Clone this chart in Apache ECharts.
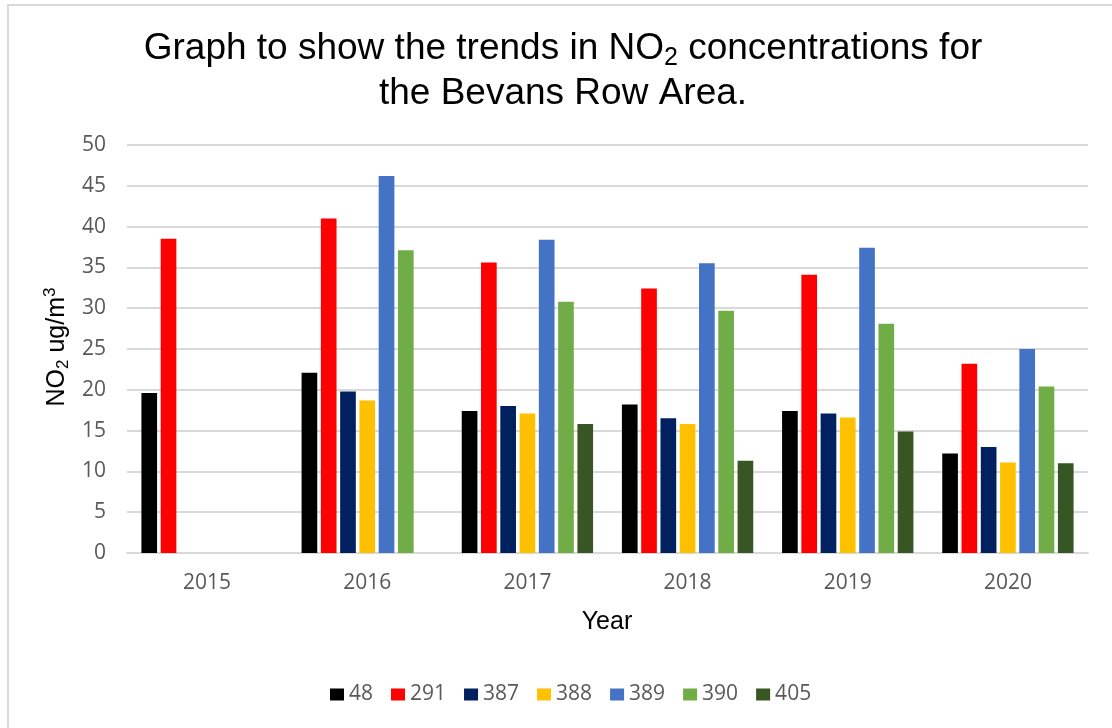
<!DOCTYPE html>
<html>
<head>
<meta charset="utf-8">
<title>NO2 trends - Bevans Row</title>
<script src="https://cdn.jsdelivr.net/npm/echarts@6/dist/echarts.min.js"></script>
<style>
  html, body { margin: 0; padding: 0; background: #fff; }
  #chart { width: 1112px; height: 728px; }
</style>
</head>
<body>
<div id="chart"></div>
<script>
// Years on the x axis
const years = ['2015', '2016', '2017', '2018', '2019', '2020'];

// One array per monitoring site (null = no reading that year)
const site48 = [19.6, 22.1, 17.4, 18.2, 17.4, 12.2];
const site291 = [38.5, 41.0, 35.6, 32.4, 34.1, 23.2];
const site387 = [null, 19.8, 18.0, 16.5, 17.1, 13.0];
const site388 = [null, 18.7, 17.1, 15.8, 16.6, 11.1];
const site389 = [null, 46.2, 38.4, 35.5, 37.4, 25.0];
const site390 = [null, 37.1, 30.8, 29.7, 28.1, 20.4];
const site405 = [null, null, 15.8, 11.3, 14.9, 11.0];

const siteNames = ['48', '291', '387', '388', '389', '390', '405'];
const siteData = [site48, site291, site387, site388, site389, site390, site405];
const siteColors = ['#000000', '#ff0000', '#002060', '#ffc000', '#4472c4', '#70ad47', '#375623'];

const labelFont = '"Open Sans", "Liberation Sans", sans-serif';
const titleFont = '"Liberation Sans", Arial, sans-serif';

const chart = echarts.init(document.getElementById('chart'));

const series = siteNames.map((name, i) => ({
  name: name,
  type: 'bar',
  data: siteData[i],
  itemStyle: { color: siteColors[i] },
  barGap: '23%',
  barCategoryGap: '18%'
}));

const option = {
  backgroundColor: '#ffffff',
  animation: false,
  grid: {
    left: 127,
    right: 24,
    top: 145,
    bottom: 175
  },
  legend: {
    data: siteNames,
    left: 325,
    top: 679,
    icon: 'rect',
    itemWidth: 14,
    itemHeight: 12,
    itemGap: 18,
    textStyle: {
      fontFamily: labelFont,
      fontSize: 21,
      color: '#595959'
    }
  },
  xAxis: {
    type: 'category',
    data: years,
    axisLine: { lineStyle: { color: '#d9d9d9', width: 2 } },
    axisTick: { show: false },
    axisLabel: {
      margin: 20,
      fontFamily: labelFont,
      fontSize: 21,
      color: '#595959'
    }
  },
  yAxis: {
    type: 'value',
    min: 0,
    max: 50,
    interval: 5,
    axisLine: { show: false },
    axisTick: { show: false },
    axisLabel: {
      margin: 21,
      fontFamily: labelFont,
      fontSize: 21,
      color: '#595959'
    },
    splitLine: { lineStyle: { color: '#d9d9d9', width: 2 } }
  },
  series: series,
  graphic: [
    // chart area border
    {
      type: 'rect',
      shape: { x: 8, y: 5, width: 1300, height: 900 },
      style: { fill: 'none', stroke: '#d9d9d9', lineWidth: 2 },
      silent: true
    },
    // title
    {
      type: 'text',
      x: 563,
      y: 26,
      style: {
        text: 'Graph to show the trends in NO{sub|2} concentrations for\nthe Bevans Row Area.',
        align: 'center',
        verticalAlign: 'top',
        font: '37px ' + titleFont,
        fill: '#000000',
        lineHeight: 45,
        rich: {
          sub: {
            fontSize: 25,
            fontFamily: titleFont,
            lineHeight: 20,
            verticalAlign: 'bottom',
            fill: '#000000'
          }
        }
      }
    },
    // x axis title
    {
      type: 'text',
      x: 607,
      y: 622,
      style: {
        text: 'Year',
        align: 'center',
        verticalAlign: 'middle',
        font: '25px ' + titleFont,
        fill: '#000000'
      }
    },
    // y axis title
    {
      type: 'text',
      x: 57,
      y: 347,
      rotation: Math.PI / 2,
      style: {
        text: 'NO{sub|2} ug/m{sup|3}',
        align: 'center',
        verticalAlign: 'middle',
        font: '25px ' + titleFont,
        fill: '#000000',
        lineHeight: 30,
        rich: {
          sub: {
            fontSize: 17,
            fontFamily: titleFont,
            lineHeight: 14,
            verticalAlign: 'bottom',
            fill: '#000000'
          },
          sup: {
            fontSize: 17,
            fontFamily: titleFont,
            lineHeight: 14,
            verticalAlign: 'top',
            fill: '#000000'
          }
        }
      }
    }
  ]
};

chart.setOption(option);
</script>
</body>
</html>
